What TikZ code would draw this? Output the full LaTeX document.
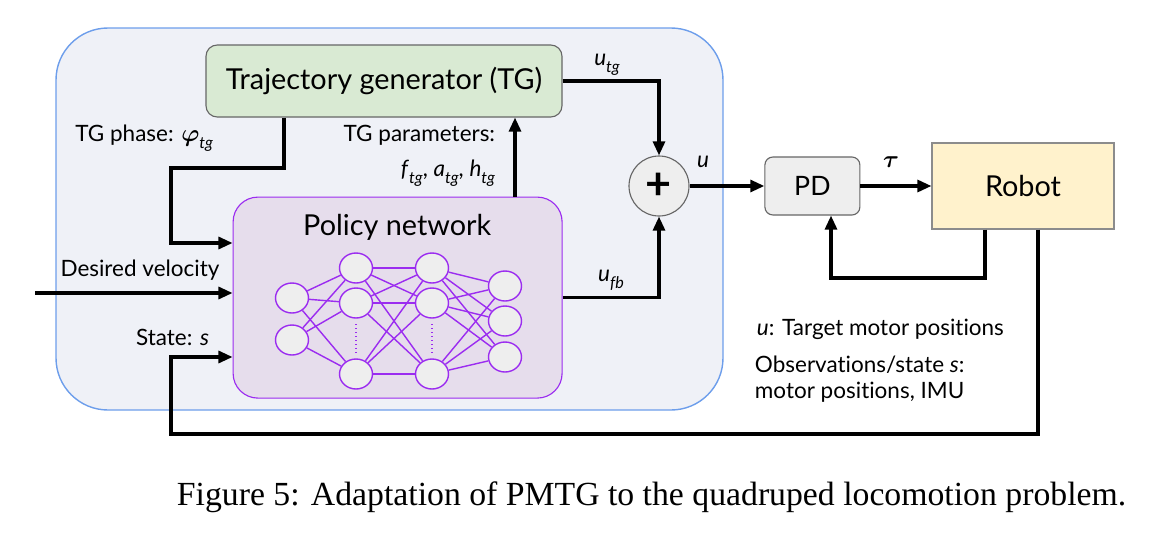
\documentclass[tikz,border=0pt]{standalone}
\usepackage{fontspec}
\usepackage{bm}
\setmainfont{Lato}[Ligatures=NoCommon]
\newfontfamily\capfont{Liberation Serif}
\usetikzlibrary{shapes.geometric,arrows.meta}

\definecolor{outerfill}{HTML}{EFF1F7}
\definecolor{outerline}{HTML}{6D9EEB}
\definecolor{tgfill}{HTML}{D9EAD3}
\definecolor{polfill}{HTML}{E6DDEC}
\definecolor{polline}{HTML}{9B2CF0}
\definecolor{nodefill}{HTML}{EEEEEE}
\definecolor{robfill}{HTML}{FFF2CC}
\definecolor{boxline}{HTML}{666666}

% lowered italic index
\newcommand{\ix}[1]{\raisebox{-0.6ex}{\fontsize{11.5}{11.5}\selectfont\itshape #1}}

\tikzset{
  flow/.style={line width=2.3pt, -{Triangle[length=10pt,width=8.5pt]}},
  bigtext/.style={font=\fontsize{20.5}{24}\selectfont},
  lbl/.style={font=\fontsize{16}{19}\selectfont},
  neuron/.style={ellipse, draw=polline, line width=1pt, fill=nodefill, minimum width=0.825cm, minimum height=0.75cm, inner sep=0pt},
  synapse/.style={draw=polline, line width=1pt},
}

\begin{document}
\begin{tikzpicture}
\useasboundingbox (0,0) rectangle (28.8,-13.45);

% blue frame round TG and policy
\node[draw=outerline, fill=outerfill, line width=1pt, rounded corners=1.3cm, minimum width=16.675cm, minimum height=9.55cm] (pmtg) at (9.7375,-5.475) {};

\begin{scope}[every node/.style={draw=boxline, line width=0.8pt, inner sep=0pt}]
    \node[fill=tgfill, rounded corners=0.28cm, minimum width=8.9cm, minimum height=1.8cm, bigtext] (tg) at (9.6,-2.025) {Trajectory generator (TG)};
    \node[draw=polline, fill=polfill, rounded corners=0.62cm, minimum width=8.225cm, minimum height=5.025cm] (policy) at (9.94,-7.44) {};
    \node[circle, fill=nodefill, minimum size=1.5cm, font=\fontsize{32}{32}\selectfont\bfseries] (plus) at (16.475,-4.65) {+};
    \node[fill=nodefill, rounded corners=0.2cm, minimum width=2.375cm, minimum height=1.45cm, font=\fontsize{19}{22}\selectfont] (pd) at (20.31,-4.65) {PD};
    \node[draw=black!45, fill=robfill, minimum width=4.55cm, minimum height=2.15cm, bigtext] (robot) at (25.575,-4.65) {Robot};
\end{scope}

\node[bigtext] (poltitle) at (9.93,-5.675) {Policy network};

% network inside the policy
\foreach \n/\x/\y in {a1/7.3/-7.45, a2/7.3/-8.5,
                      b1/8.9/-6.7, b2/8.9/-7.575, b3/8.9/-9.35,
                      c1/10.8/-6.7, c2/10.8/-7.575, c3/10.8/-9.35,
                      d1/12.625/-7.15, d2/12.625/-8.025, d3/12.625/-8.925}
    \node[neuron] (\n) at (\x,\y) {};
\foreach \from in {a1, a2}{
    \foreach \to in {b1, b2, b3}
        \draw[synapse] (\from) -- (\to);
}
\foreach \from in {b1, b2, b3}{
    \foreach \to in {c1, c2, c3}
        \draw[synapse] (\from) -- (\to);
}
\foreach \from in {c1, c2, c3}{
    \foreach \to in {d1, d2, d3}
        \draw[synapse] (\from) -- (\to);
}
\foreach \from/\to in {b2/b3, c2/c3}
    \draw[polline, line width=0.8pt, dotted, shorten >=4pt, shorten <=4pt] (\from) -- (\to);

% connectors
\coordinate (phA) at (7.1,-4.2);
\coordinate (phB) at (4.275,-4.2);
\coordinate (phIn) at (5.825,-6.075);
\coordinate (parX) at (12.875,0);
\coordinate (velIn) at (0.875,-7.325);
\coordinate (fbA) at (24.625,-6.95);
\coordinate (fbB) at (20.775,-6.95);
\coordinate (obsA) at (25.95,-10.85);
\coordinate (obsB) at (4.275,-10.85);
\coordinate (stIn) at (5.825,-8.925);

\draw[flow] (tg.south -| phA) |- (phB) |- (policy.west |- phIn);
\draw[flow] (policy.north -| parX) -- (tg.south -| parX);
\draw[flow] (velIn) -- (policy.west |- velIn);
\draw[flow] (tg.east) -| (plus.north);
\draw[flow] (policy.east) -| (plus.south);
\draw[flow] (plus.east) -- (pd.west);
\draw[flow] (pd.east) -- (robot.west);
\draw[flow] (robot.south -| fbA) -- (fbA) -- (fbB) -- (pd.south -| fbB);
\draw[flow] (robot.south -| obsA) -- (obsA) -- (obsB) |- (policy.west |- stIn);

% labels
\node[lbl] (utg) at (15.175,-1.625) {\textit{u}\ix{tg}};
\node[lbl] (ulab) at (17.575,-4.05) {\textit{u}};
\node[lbl] (ufb) at (15.275,-7.0) {\textit{u}\ix{fb}};
\node[font=\fontsize{18}{20}\selectfont] (taulab) at (22.275,-4.05) {$\bm{\tau}$};
\node[lbl, anchor=east] (phlab) at (5.45,-3.45) {TG phase: $\bm{\varphi}$\ix{tg}};
\node[lbl, anchor=east, align=right] (parlab) at (12.5,-3.89) {TG parameters:\\[6pt]\textit{f}\ix{tg}, \textit{a}\ix{tg}, \textit{h}\ix{tg}};
\node[lbl] (vellab) at (3.5,-6.75) {Desired velocity};
\node[lbl, anchor=east] (stlab) at (5.35,-8.425) {State: \textit{s}};
\node[lbl, anchor=west] (ulegend) at (18.8,-8.225) {\textit{u}: Target motor positions};
\node[font=\fontsize{16}{18.5}\selectfont, anchor=west, align=left] (obslegend) at (18.75,-9.475) {Observations/state \textit{s}:\\motor positions, IMU};

\node[font=\capfont\fontsize{24}{28}\selectfont] (caption) at (16.29,-12.425) {Figure 5: Adaptation of PMTG to the quadruped locomotion problem.};
\end{tikzpicture}
\end{document}
